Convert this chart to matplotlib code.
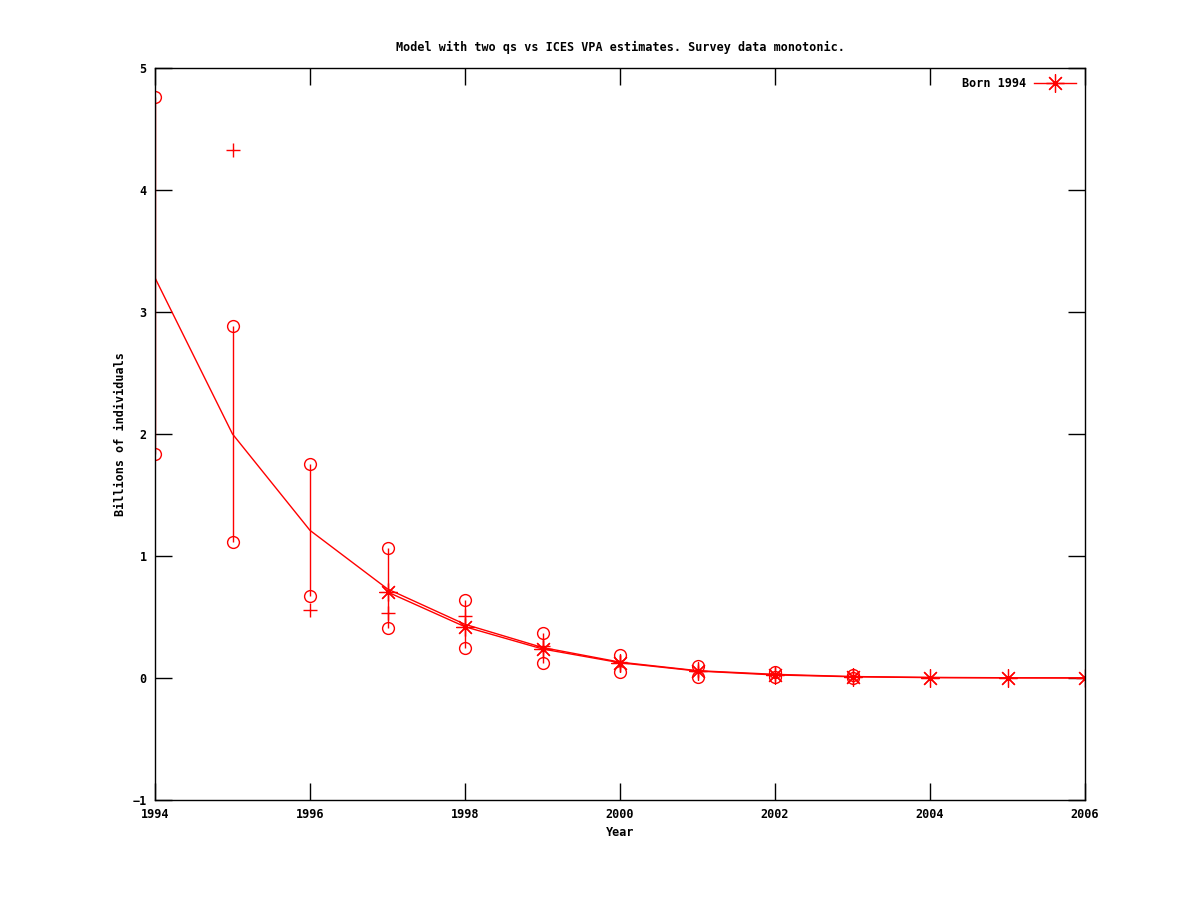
import matplotlib
matplotlib.use("Agg")
import matplotlib.pyplot as plt

# Survey interval (circles joined by a vertical line)
survey_years = [1994, 1995, 1996, 1997, 1998, 1999, 2000, 2001, 2002, 2003]
survey_low = [1.84, 1.115, 0.672, 0.41, 0.246, 0.123, 0.05, 0.01, 0.005, 0.0]
survey_high = [4.76, 2.885, 1.754, 1.066, 0.639, 0.369, 0.19, 0.10, 0.05, 0.025]

# Plus-marker estimates
plus_years = [1995, 1996, 1997, 1998, 1999, 2000, 2001, 2002, 2003]
plus_vals = [4.33, 0.557, 0.533, 0.51, 0.26, 0.13, 0.06, 0.03, 0.015]

# Model line
model_years = [1994, 1995, 1996, 1997, 1998, 1999, 2000, 2001, 2002, 2003, 2004, 2005, 2006]
model_vals = [3.28, 2.0, 1.21, 0.73, 0.44, 0.25, 0.13, 0.06, 0.03, 0.012, 0.005, 0.002, 0.001]

# ICES VPA estimates, Born 1994
vpa_years = [1997, 1998, 1999, 2000, 2001, 2002, 2003, 2004, 2005, 2006]
vpa_vals = [0.705, 0.42, 0.238, 0.125, 0.057, 0.025, 0.01, 0.003, 0.001, 0.0]

title = "Model with two qs vs ICES VPA estimates. Survey data monotonic."
xticks = [1994, 1996, 1998, 2000, 2002, 2004, 2006]
yticks = [-1, 0, 1, 2, 3, 4, 5]

plt.rcParams['font.family'] = ['DejaVu Sans Mono']
plt.rcParams['font.weight'] = 'bold'
plt.rcParams['font.size'] = 8.5

fig = plt.figure(figsize=(12, 9), dpi=100)
ax = fig.add_axes([155/1200, 1-800/900, (1085-155)/1200, (800-68)/900])

red = '#ff0000'
ax.vlines(survey_years, survey_low, survey_high, color=red, lw=1)
ax.plot(survey_years, survey_low, 'o', mfc='none', mec=red, ms=8.5, mew=1, ls='none')
ax.plot(survey_years, survey_high, 'o', mfc='none', mec=red, ms=8.5, mew=1, ls='none')
ax.plot(plus_years, plus_vals, '+', color=red, ms=10, mew=1, ls='none')
ax.plot(model_years, model_vals, '-', color=red, lw=1)
ax.plot(vpa_years, vpa_vals, '-', color=red, lw=1, marker=(8, 2, 0), ms=13, mew=0.9,
        label='Born 1994')

ax.set_xlim(1994, 2006)
ax.set_ylim(-1, 5)
ax.set_xticks(xticks)
ax.set_yticks(yticks)
ax.tick_params(direction='in', length=12, width=1, top=True, right=True, pad=6,
               labelsize=8.5)
for s in ax.spines.values():
    s.set_linewidth(1)

ax.set_title(title, fontsize=8.5, fontweight='bold', pad=12)
ax.set_xlabel('Year', fontsize=8.5, fontweight='bold', labelpad=3)
ax.set_ylabel('Billions of individuals', fontsize=8.5, fontweight='bold', labelpad=4)

leg = ax.legend(loc='upper right', frameon=False, markerfirst=False, fontsize=8.5,
                handlelength=3.6, handletextpad=0.6, borderaxespad=0.35)

fig.savefig('out.png', dpi=100)
